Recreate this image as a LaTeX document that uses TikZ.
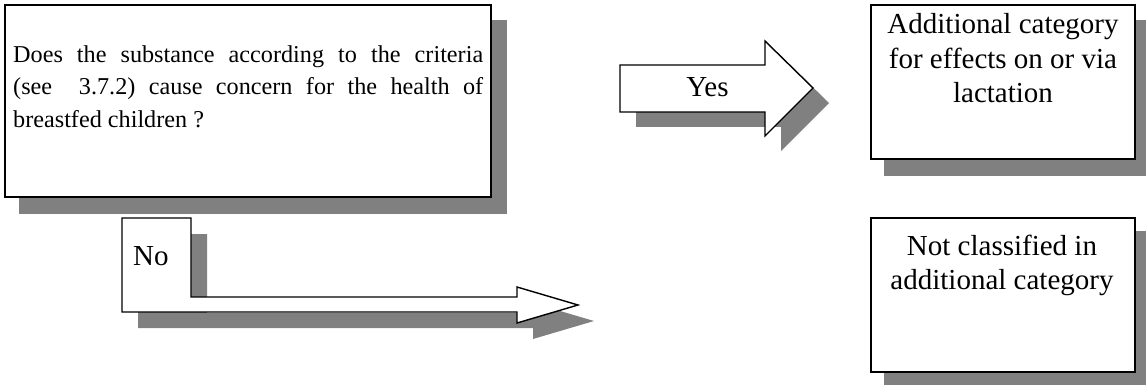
\documentclass[tikz,border=0pt]{standalone}
\usepackage{fontspec}
\setmainfont{Liberation Serif}
\usetikzlibrary{backgrounds}
\definecolor{shadowgray}{HTML}{808080}
\begin{document}
\begin{tikzpicture}[x=1pt,y=-1pt,
  box/.style={draw=black,line width=1.4pt,fill=white,rectangle,inner sep=0pt},
  arrowshape/.style={draw=black,line width=1.4pt,fill=white,line join=miter},
  txt/.style={font=\fontsize{24.2}{32.5}\selectfont,inner sep=0pt},
  bigtxt/.style={font=\fontsize{29}{34.5}\selectfont,inner sep=0pt},
  sh/.style={fill=shadowgray}]
\useasboundingbox (0,0) rectangle (1146,385);

% boxes
\node[box,minimum width=486pt,minimum height=192pt] (q) at (248,101) {};
\node[box,minimum width=264pt,minimum height=154pt] (yesbox) at (1003,82) {};
\node[box,minimum width=264pt,minimum height=154pt] (nobox) at (1003,295) {};

% texts
\node[txt,anchor=north west,text width=470pt,align=justify] (qt) at (13,45.5)
  {Does the substance according to the criteria\linebreak
   (see\ \ 3.7.2) cause concern for the health of\linebreak
   breastfed children ?};
\node[bigtxt,anchor=north,align=center] (yt) at (1003,13.5)
  {Additional category\\for effects on or via\\lactation};
\node[bigtxt,anchor=north,align=center] (nt) at (1002,234.5)
  {Not classified in\\additional category};

% Yes arrow
\coordinate (ya) at (620,65);
\draw[arrowshape] (ya) -- ++(145,0) -- ++(0,-24) -- ++(48,47) -- ++(-48,48) -- ++(0,-24) -- ++(-145,0) -- cycle;
\node[bigtxt,anchor=base] (yes) at (707.5,97) {Yes};

% No arrow
\coordinate (na) at (122,218);
\draw[arrowshape] (na) -- ++(69,0) -- ++(0,79) -- ++(326,0) -- ++(0,-10) -- ++(61,18) -- ++(-61,18) -- ++(0,-11) -- ++(-395,0) -- cycle;
\node[bigtxt,anchor=base west] (no) at (133,265) {No};

\begin{scope}[on background layer]
  \fill[sh] ([shift={(15,16)}]q.north west) rectangle ([shift={(15,16)}]q.south east);
  \fill[sh] ([shift={(14,16)}]yesbox.north west) rectangle ([shift={(14,16)}]yesbox.south east);
  \fill[sh] ([shift={(14,14)}]nobox.north west) rectangle ([shift={(14,14)}]nobox.south east);
  \fill[sh] ([shift={(16,15)}]ya) -- ++(145,0) -- ++(0,-24) -- ++(48,47) -- ++(-48,48) -- ++(0,-24) -- ++(-145,0) -- cycle;
  \fill[sh] ([shift={(16,16)}]na) -- ++(69,0) -- ++(0,79) -- ++(326,0) -- ++(0,-10) -- ++(61,18) -- ++(-61,18) -- ++(0,-11) -- ++(-395,0) -- cycle;
\end{scope}
\end{tikzpicture}
\end{document}
